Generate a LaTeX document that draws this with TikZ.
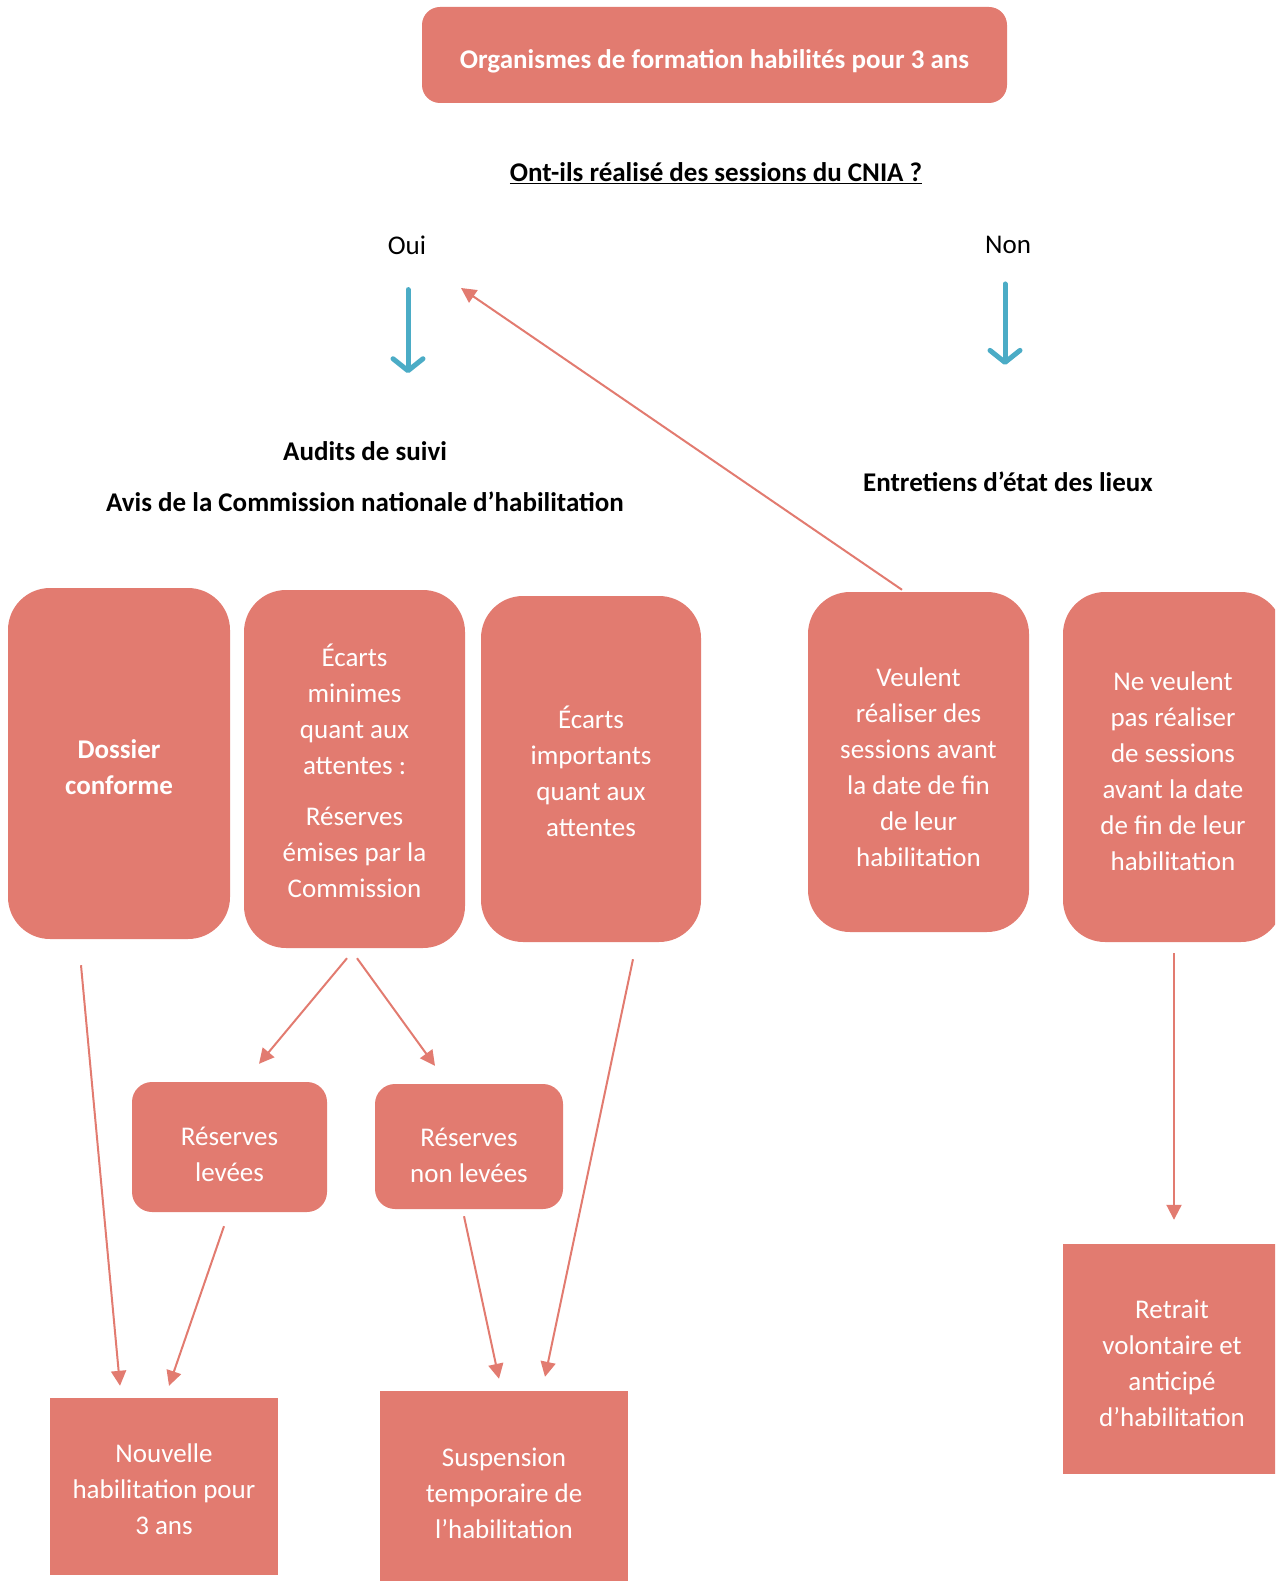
\documentclass[tikz,border=0pt]{standalone}
\usepackage{fontspec}
\setmainfont{Carlito}
\usetikzlibrary{arrows.meta,calc}
\definecolor{salm}{HTML}{E27B70}
\definecolor{bluearr}{HTML}{4BACC6}
\newcommand{\shiftedtext}[2]{\raisebox{-#1}[\height][\depth]{\begin{tabular}{@{}c@{}}#2\end{tabular}}}
\begin{document}
\begin{tikzpicture}[x=1pt,y=-1pt,
  txt/.style={font=\fontsize{27}{36}\selectfont, align=center, inner sep=0pt},
  btxt/.style={font=\fontsize{27}{36}\selectfont\bfseries, align=center, inner sep=0pt},
  rbox/.style={font=\fontsize{27}{36}\selectfont, inner sep=0pt, fill=salm, text=white, draw=none, rounded corners=#1},
  sbox/.style={font=\fontsize{27}{36}\selectfont, inner sep=0pt, fill=salm, text=white, draw=none},
  conn/.style={draw=salm, line width=2pt, -{Triangle[length=15pt,width=15pt]}},
  bluea/.style={draw=bluearr, line width=5pt, line cap=round, -{Straight Barb[length=12pt,width=30pt,round]}}
]
\path[use as bounding box] (0,0) rectangle (1275,1581);
\clip (0,0) rectangle (1275,1581);

% title
\node[rbox=18pt, minimum width=585pt, minimum height=96pt, font=\fontsize{27}{36}\selectfont\bfseries] (title) at (714.5,55) {\shiftedtext{6pt}{Organismes de formation habilités pour 3 ans}};
\node[btxt] (question) at (716,173) {\underline{Ont-ils réalisé des sessions du CNIA ?}};

\node[txt] (oui) at (407,245) {Oui};
\node[txt] (non) at (1008,245) {Non};

\node[btxt] (audits) at (365,451) {Audits de suivi};
\node[btxt] (avis) at (365,502) {Avis de la Commission nationale d’habilitation};
\node[btxt] (entretiens) at (1008,482) {Entretiens d’état des lieux};

% big rounded boxes
\node[rbox=42pt, minimum width=222pt, minimum height=351pt, font=\fontsize{27}{36}\selectfont\bfseries] (dossier) at (119,763.5) {\shiftedtext{6pt}{Dossier\\conforme}};
\node[rbox=42pt, minimum width=221pt, minimum height=358pt] (minimes) at (354.5,769) {\shiftedtext{6pt}{Écarts\\minimes\\quant aux\\attentes :\\[15pt]Réserves\\émises par la\\Commission}};
\node[rbox=42pt, minimum width=220pt, minimum height=346pt] (importants) at (591,769) {\shiftedtext{6pt}{Écarts\\importants\\quant aux\\attentes}};
\node[rbox=42pt, minimum width=221pt, minimum height=340pt] (veulent) at (918.5,762) {\shiftedtext{7pt}{Veulent\\réaliser des\\sessions avant\\la date de fin\\de leur\\habilitation}};
\node[rbox=42pt, minimum width=220pt, minimum height=350pt] (neveulent) at (1173,767) {\shiftedtext{6pt}{Ne veulent\\pas réaliser\\de sessions\\avant la date\\de fin de leur\\habilitation}};

% small rounded boxes
\node[rbox=20pt, minimum width=195pt, minimum height=130pt] (levees) at (229.5,1147) {\shiftedtext{9pt}{Réserves\\levées}};
\node[rbox=20pt, minimum width=188pt, minimum height=125pt] (nonlevees) at (469,1146.5) {\shiftedtext{11pt}{Réserves\\non levées}};

% square boxes
\node[sbox, minimum width=228pt, minimum height=177pt] (nouvelle) at (164,1486.5) {\shiftedtext{5pt}{Nouvelle\\habilitation pour\\3 ans}};
\node[sbox, minimum width=248pt, minimum height=200pt] (suspension) at (504,1491) {\shiftedtext{4pt}{Suspension\\temporaire de\\l’habilitation}};
\node[sbox, minimum width=222pt, minimum height=230pt] (retrait) at (1174,1359) {\hspace*{-4pt}\shiftedtext{6pt}{Retrait\\volontaire et\\anticipé\\d’habilitation}};

% blue arrows
\draw[bluea] ($(oui.south)+(1,35)$) -- ($(audits.north)+(43,-68)$);
\draw[bluea] ($(non.south)+(-3,30)$) -- ($(entretiens.north)+(-3,-107)$);

% salmon connectors
\coordinate (ouitip) at ($(oui)+(54,43)$);
\draw[conn] ($(veulent.north)+(-16.5,-2)$) -- (ouitip);
\draw[conn] ($(dossier.south)+(-38,26)$) -- ($(nouvelle.north)+(-44,-12)$);
\draw[conn] ($(levees.south)+(-5.5,14)$) -- ($(nouvelle.north)+(5,-12)$);
\draw[conn] ($(minimes.south)+(-7.5,10)$) -- ($(levees.north)+(29.5,-18)$);
\draw[conn] ($(minimes.south)+(2.5,10)$) -- ($(nonlevees.north)+(-34,-18)$);
\draw[conn] ($(nonlevees.south)+(-5,7)$) -- ($(suspension.north)+(-5,-12)$);
\draw[conn] ($(importants.south)+(42,17)$) -- ($(suspension.north)+(41,-14)$);
\draw[conn] ($(neveulent.south)+(1,11)$) -- ($(retrait.north)+(0,-24)$);
\end{tikzpicture}
\end{document}
